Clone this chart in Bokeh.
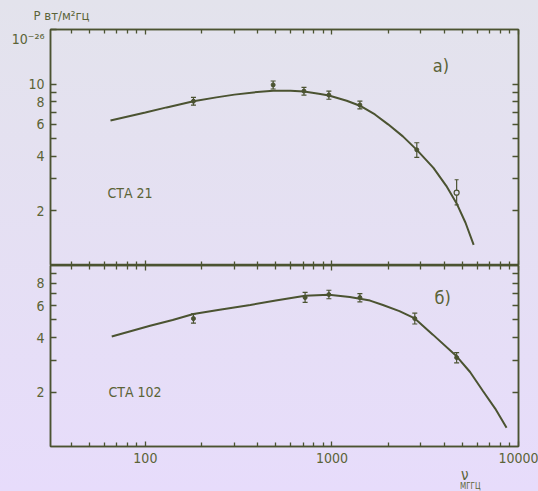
from bokeh.plotting import figure
from bokeh.layouts import column
from bokeh.models import (FixedTicker, Whisker, ColumnDataSource, Label, TeeHead,
                          LogAxis, Range1d, Title, NumeralTickFormatter)
from bokeh.embed import file_html
from bokeh.resources import INLINE

# ---------------- data ----------------
# frequency axis ticks (MHz)
x_major_ticks = [100, 1000, 10000]
x_minor_ticks = [40, 50, 60, 70, 80, 90, 200, 300, 400, 500, 600, 700, 800, 900,
                 2000, 3000, 4000, 5000, 6000, 7000, 8000, 9000]

# panel a) CTA 21
a_y_major_ticks = [2, 4, 6, 8, 10]
a_y_minor_ticks = [3, 5, 7, 9]
a_y_unit_tick = 20
a_y_unit_label = "\n10⁻²⁶"
cta21_curve_freq = [65, 100, 130, 181, 240, 300, 380, 484, 600, 708, 850, 963, 1200, 1412,
                    1700, 2000, 2400, 2850, 3500, 4100, 4660, 5200, 5750]
cta21_curve_flux = [6.3, 6.97, 7.44, 8.05, 8.45, 8.75, 9.0, 9.2, 9.2, 9.1, 8.85, 8.65, 8.1, 7.6,
                    6.8, 6.0, 5.15, 4.34, 3.45, 2.75, 2.2, 1.72, 1.30]
cta21_pt_freq = [181, 484, 708, 963, 1412, 2850]
cta21_pt_flux = [8.05, 9.9, 9.15, 8.7, 7.67, 4.34]
cta21_pt_lo = [7.65, 9.4, 8.7, 8.25, 7.3, 3.95]
cta21_pt_hi = [8.45, 10.4, 9.6, 9.15, 8.05, 4.75]
cta21_open_freq = [4660]
cta21_open_flux = [2.52]
cta21_open_lo = [2.16]
cta21_open_hi = [2.97]

# panel b) CTA 102
b_y_major_ticks = [2, 4, 6, 8]
b_y_minor_ticks = [3, 5, 7, 9]
cta102_curve_freq = [66, 106, 140, 181, 250, 365, 500, 718, 963, 1246, 1600, 1876, 2300, 2780,
                     3475, 4660, 5500, 6420, 7500, 8630]
cta102_curve_flux = [4.05, 4.65, 5.0, 5.4, 5.7, 6.05, 6.4, 6.8, 6.9, 6.7, 6.4, 6.05, 5.6, 5.1,
                     4.15, 3.15, 2.58, 2.04, 1.62, 1.27]
cta102_pt_freq = [181, 718, 963, 1412, 2780, 4660]
cta102_pt_flux = [5.09, 6.65, 6.91, 6.65, 5.09, 3.1]
cta102_pt_lo = [4.8, 6.25, 6.55, 6.3, 4.75, 2.9]
cta102_pt_hi = [5.4, 7.1, 7.3, 7.0, 5.45, 3.3]

# ---------------- style ----------------
FONT = "DejaVu Sans Condensed, Roboto"
LINE = "#4b5331"
TEXT = "#5b6337"
W = 538
H1 = 265
H2 = 226


def style_axis(ax, labels=True, tick_len=6, minor_len=None):
    ax.axis_line_color = LINE
    ax.axis_line_width = 1.5
    ax.major_tick_line_color = LINE
    ax.minor_tick_line_color = LINE
    ax.major_tick_line_width = 1.3
    ax.minor_tick_line_width = 1.3
    ax.major_tick_in = tick_len
    ax.major_tick_out = 0
    ax.minor_tick_in = tick_len if minor_len is None else minor_len
    ax.minor_tick_out = 0
    ax.major_label_text_font = FONT
    ax.major_label_text_color = TEXT
    ax.major_label_text_font_size = "14px"
    ax.major_label_standoff = 6
    ax.formatter = NumeralTickFormatter(format="0")
    if not labels:
        ax.major_label_text_font_size = "0.1px"
        ax.major_label_text_alpha = 0
        ax.major_label_standoff = 0


def make_fig(height, y_end, border_top, border_bottom):
    p = figure(width=W, height=height, x_axis_type="log", y_axis_type="log",
               x_range=Range1d(31, 10000), y_range=Range1d(1, y_end),
               output_backend="svg", toolbar_location=None,
               min_border_left=50, min_border_right=20,
               min_border_top=border_top, min_border_bottom=border_bottom)
    p.background_fill_alpha = 0
    p.border_fill_alpha = 0
    p.outline_line_color = LINE
    p.outline_line_width = 1.5
    p.xgrid.visible = False
    p.ygrid.visible = False
    return p


def whisker(p, src, head):
    p.add_layout(Whisker(source=src, base="f", lower="lo", upper="hi", dimension="height",
                         line_color=LINE, line_width=1.2,
                         upper_head=TeeHead(size=head, line_color=LINE, line_width=1.2),
                         lower_head=TeeHead(size=head, line_color=LINE, line_width=1.2)))


def label(p, x, y, text, size):
    p.add_layout(Label(x=x, y=y, text=text, text_font=FONT, text_font_size=size,
                       text_color=TEXT, text_align="left", text_baseline="middle"))


x_ticker = FixedTicker(ticks=x_major_ticks, minor_ticks=x_minor_ticks)

# ---------------- top panel ----------------
top = make_fig(H1, 20, 29, 0)
top.xaxis.ticker = x_ticker
style_axis(top.xaxis[0], labels=False, tick_len=5, minor_len=4)
a_left_ticker = FixedTicker(ticks=a_y_major_ticks + [a_y_unit_tick], minor_ticks=a_y_minor_ticks)
top.yaxis.ticker = a_left_ticker
style_axis(top.yaxis[0])
top.yaxis[0].major_label_overrides = {a_y_unit_tick: a_y_unit_label}
ax_top = LogAxis(ticker=x_ticker)
style_axis(ax_top, labels=False, tick_len=5, minor_len=4)
top.add_layout(ax_top, "above")
ax_r = LogAxis(ticker=FixedTicker(ticks=a_y_major_ticks, minor_ticks=a_y_minor_ticks))
style_axis(ax_r, labels=False)
top.add_layout(ax_r, "right")
top.add_layout(Title(text="Р вт/м²гц", align="left", vertical_align="top", offset=-17,
                     standoff=9, text_font=FONT, text_font_size="13px",
                     text_font_style="normal", text_color=TEXT), "above")

top.line(cta21_curve_freq, cta21_curve_flux, line_color=LINE, line_width=2)
src_a = ColumnDataSource(dict(f=cta21_pt_freq, v=cta21_pt_flux, lo=cta21_pt_lo, hi=cta21_pt_hi))
whisker(top, src_a, 5)
top.scatter("f", "v", source=src_a, marker="circle", size=4, color=LINE)
src_ao = ColumnDataSource(dict(f=cta21_open_freq, v=cta21_open_flux, lo=cta21_open_lo, hi=cta21_open_hi))
whisker(top, src_ao, 4)
top.scatter("f", "v", source=src_ao, marker="circle", size=5, fill_color="#e4e2f2",
            line_color=LINE, line_width=1.2)

label(top, 3470, 12.7, "а)", "18px")
label(top, 62.6, 2.52, "СТА 21", "14px")

# ---------------- bottom panel ----------------
bot = make_fig(H2, 10, 0, 45)
bot.xaxis.ticker = x_ticker
style_axis(bot.xaxis[0], tick_len=5, minor_len=4)
bot.yaxis.ticker = FixedTicker(ticks=b_y_major_ticks, minor_ticks=b_y_minor_ticks)
style_axis(bot.yaxis[0])
bx_top = LogAxis(ticker=x_ticker)
style_axis(bx_top, labels=False, tick_len=5, minor_len=4)
bot.add_layout(bx_top, "above")
by_r = LogAxis(ticker=FixedTicker(ticks=b_y_major_ticks, minor_ticks=b_y_minor_ticks))
style_axis(by_r, labels=False)
bot.add_layout(by_r, "right")
bot.add_layout(Title(text="ν", align="right", offset=50, standoff=-4,
                     text_font=FONT, text_font_size="15px", text_font_style="normal",
                     text_color=TEXT), "below")
bot.add_layout(Title(text="МГГЦ", align="right", offset=38, standoff=-3,
                     text_font=FONT, text_font_size="8px", text_font_style="normal",
                     text_color=TEXT), "below")

bot.line(cta102_curve_freq, cta102_curve_flux, line_color=LINE, line_width=2)
src_b = ColumnDataSource(dict(f=cta102_pt_freq, v=cta102_pt_flux, lo=cta102_pt_lo, hi=cta102_pt_hi))
whisker(bot, src_b, 5)
bot.scatter("f", "v", source=src_b, marker="circle", size=4, color=LINE)

label(bot, 3550, 6.65, "б)", "18px")
label(bot, 63.4, 2.01, "СТА 102", "14px")

layout = column(top, bot, spacing=0)

html = file_html(layout, INLINE)
html = html.replace("</head>",
                    "<style>html{min-height:100%;background:linear-gradient(#e3e3ec,#e7dcfb);}"
                    "body{background:transparent;}</style></head>", 1)
open("out.html", "w").write(html)
